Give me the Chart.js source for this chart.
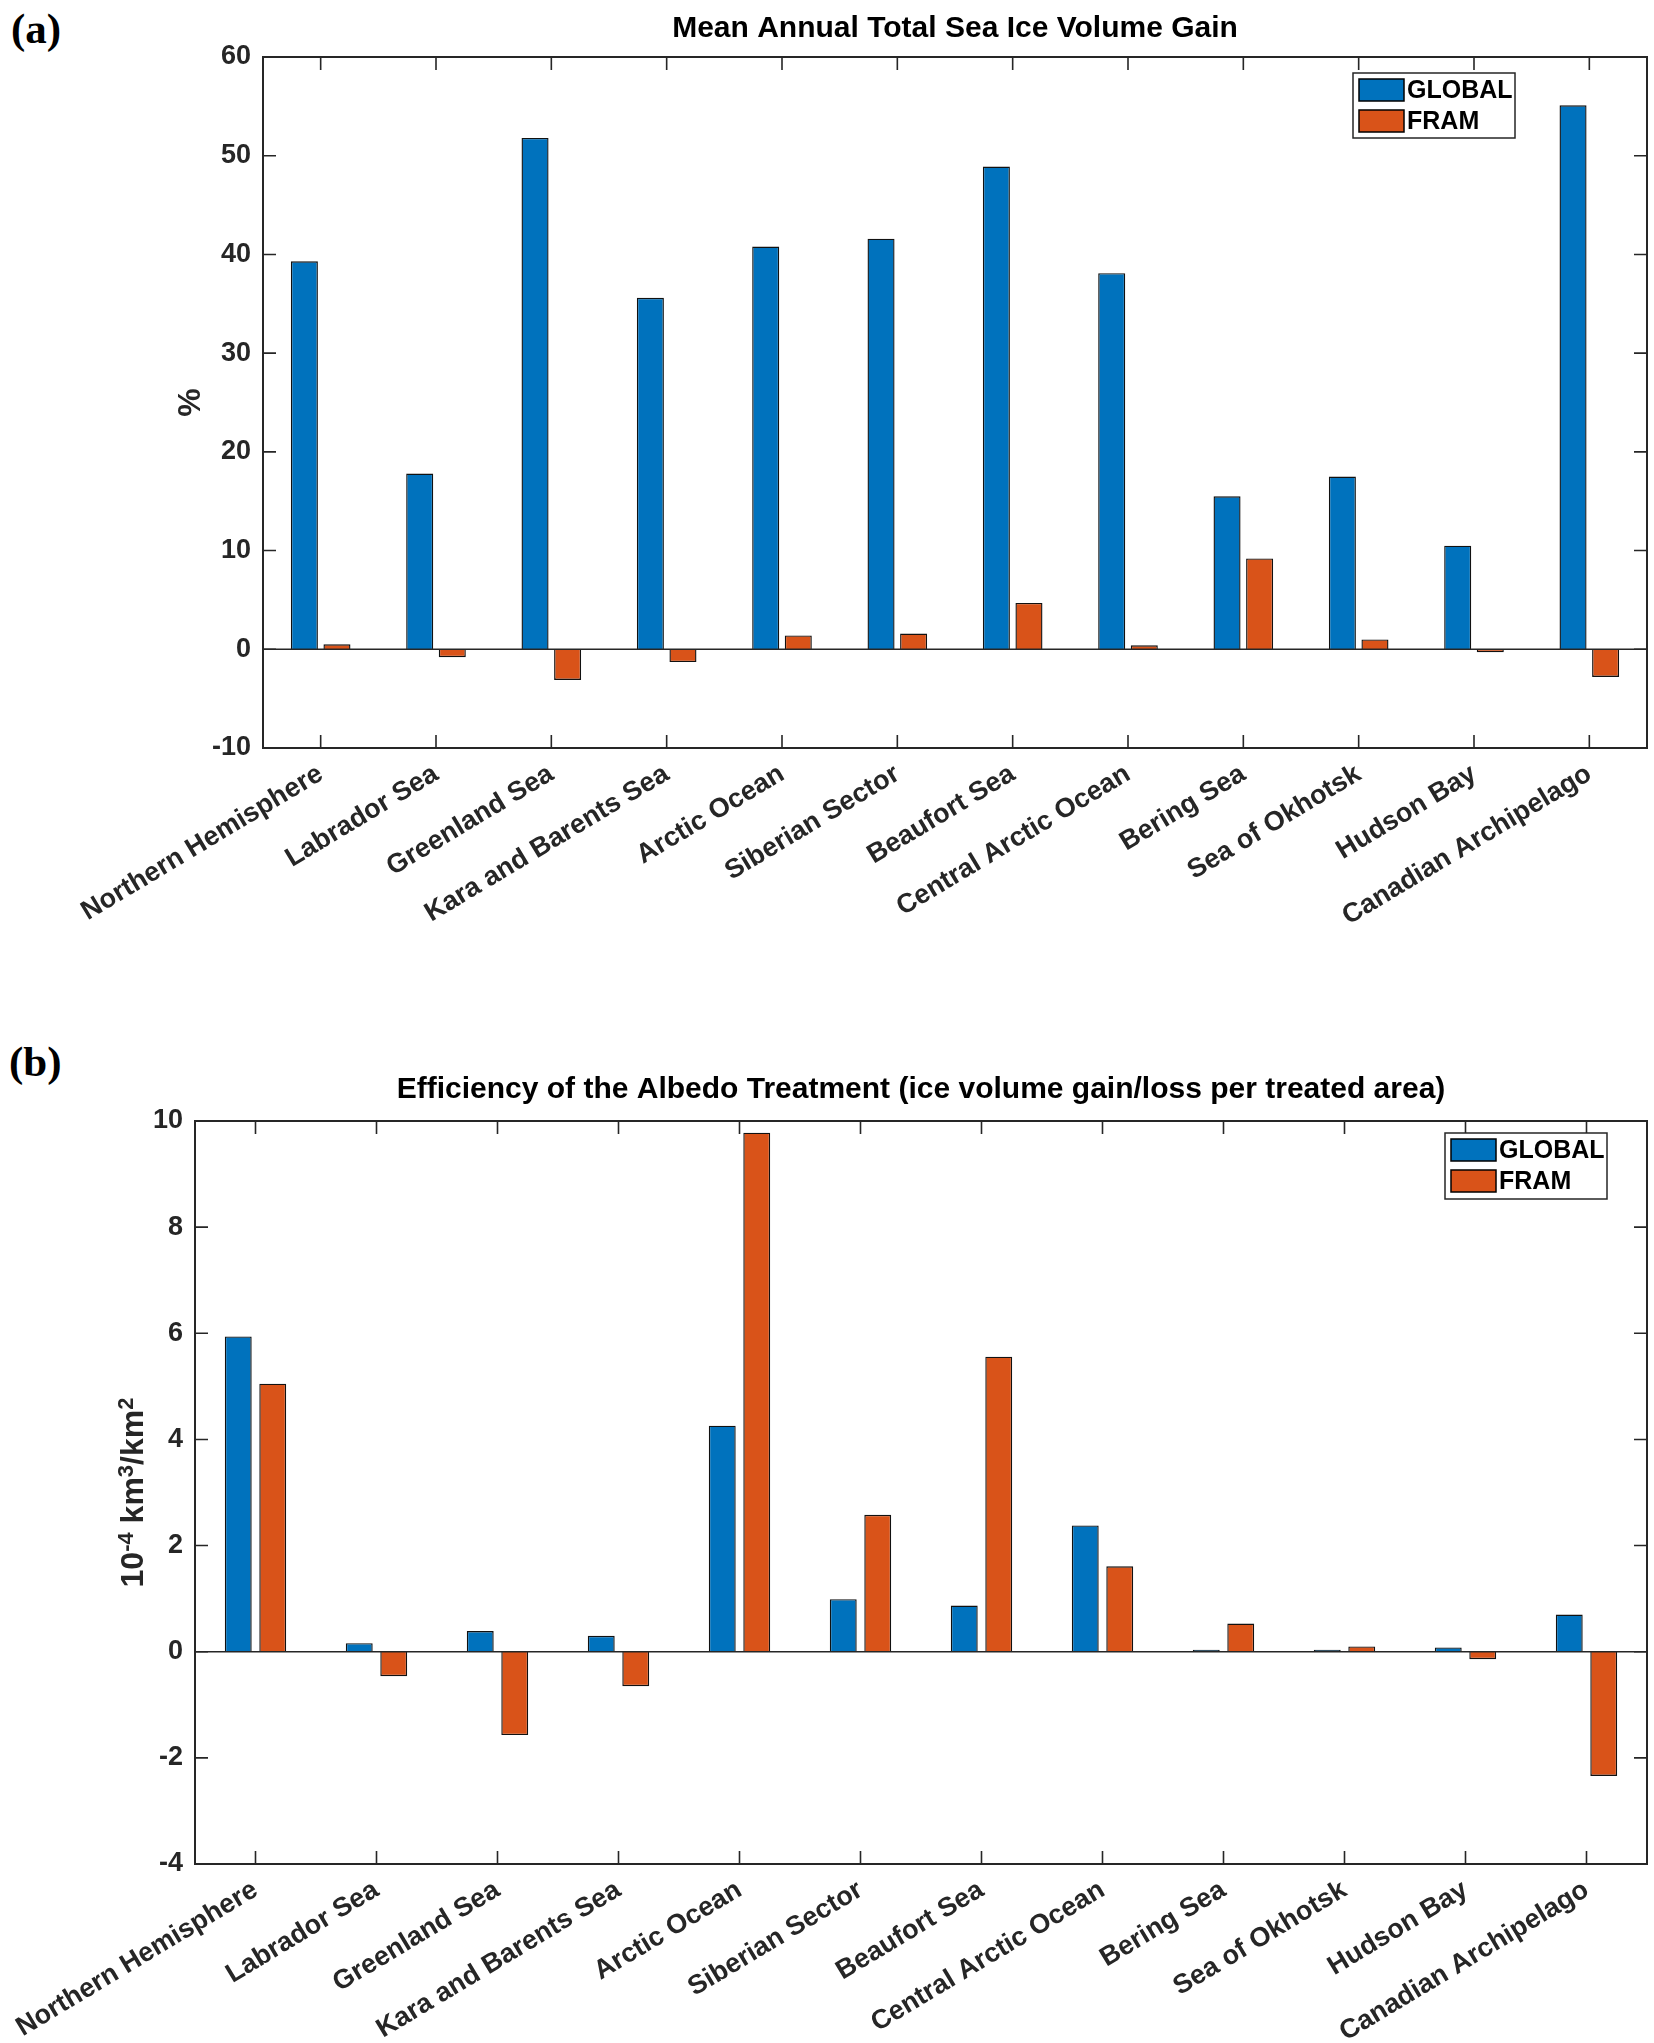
<!DOCTYPE html>
<html><head><meta charset="utf-8">
<script src="https://cdn.jsdelivr.net/npm/chart.js@4.4.0/dist/chart.umd.min.js"></script>
<style>
html,body{margin:0;padding:0;background:#fff;width:1654px;height:2043px;overflow:hidden;}
.panel{position:absolute;left:0;width:1654px;}
#pa{top:0;height:1000px;}
#pb{top:1000px;height:1043px;}
.lab{position:absolute;font-family:"Liberation Serif","Times New Roman",serif;font-weight:bold;font-size:43px;color:#000;line-height:1;}
</style></head><body>
<div class="lab" style="left:11px;top:7px">(a)</div>
<div class="lab" style="left:9px;top:1040px">(b)</div>
<div class="panel" id="pa"><canvas id="ca" width="1654" height="1000"></canvas></div>
<div class="panel" id="pb"><canvas id="cb" width="1654" height="1043"></canvas></div>
<script>
const categories = ['Northern Hemisphere','Labrador Sea','Greenland Sea','Kara and Barents Sea','Arctic Ocean','Siberian Sector','Beaufort Sea','Central Arctic Ocean','Bering Sea','Sea of Okhotsk','Hudson Bay','Canadian Archipelago'];
const seriesNames = ['GLOBAL','FRAM'];
// (a) Mean annual total sea ice volume gain, %
const gainGlobal = [39.3, 17.8, 51.8, 35.6, 40.8, 41.6, 48.9, 38.1, 15.5, 17.5, 10.5, 55.1];
const gainFram   = [0.5, -0.8, -3.1, -1.3, 1.4, 1.6, 4.7, 0.4, 9.2, 1.0, -0.3, -2.8];
const gainTicks  = [-10, 0, 10, 20, 30, 40, 50, 60];
// (b) Efficiency, 10^-4 km3/km2
const effGlobal = [5.94, 0.16, 0.39, 0.30, 4.26, 0.99, 0.87, 2.38, 0.02, 0.02, 0.08, 0.70];
const effFram   = [5.05, -0.46, -1.57, -0.65, 9.78, 2.58, 5.56, 1.61, 0.53, 0.10, -0.14, -2.34];
const effTicks  = [-4, -2, 0, 2, 4, 6, 8, 10];

const titleA = 'Mean Annual Total Sea Ice Volume Gain';
const titleB = 'Efficiency of the Albedo Treatment (ice volume gain/loss per treated area)';
const yTitleA = [{t:'%'}];
const yTitleB = [{t:'10'},{t:'-4',sup:true},{t:' km'},{t:'3',sup:true},{t:'/km'},{t:'2',sup:true}];

const FONT = '"Liberation Sans", Arial, Helvetica, sans-serif';
const INK = '#262626';
const BLUE = '#0072BD';
const ORANGE = '#D95319';

const decor = {
  id: 'decor',
  afterDatasetsDraw(chart, args, o) {
    const {ctx, chartArea: a, scales: {x, y}} = chart;
    ctx.save();
    ctx.strokeStyle = INK;
    ctx.lineWidth = 1.6;
    const y0 = y.getPixelForValue(0);
    ctx.beginPath(); ctx.moveTo(a.left, y0); ctx.lineTo(a.right, y0); ctx.stroke();
    ctx.beginPath();
    for (let i = 0; i < x.ticks.length; i++) {
      const px = x.getPixelForTick(i);
      ctx.moveTo(px, a.bottom); ctx.lineTo(px, a.bottom - 13);
      ctx.moveTo(px, a.top); ctx.lineTo(px, a.top + 13);
    }
    y.ticks.forEach(t => {
      const py = y.getPixelForValue(t.value);
      ctx.moveTo(a.left, py); ctx.lineTo(a.left + 13, py);
      ctx.moveTo(a.right, py); ctx.lineTo(a.right - 13, py);
    });
    ctx.stroke();
    ctx.lineWidth = 2;
    ctx.strokeRect(a.left, a.top, a.right - a.left, a.bottom - a.top);
    // legend
    const L = o.legend;
    const lx = a.right - L.fromRight, ly = a.top + L.fromTop;
    ctx.fillStyle = '#fff';
    ctx.fillRect(lx, ly, L.w, L.h);
    ctx.lineWidth = 1.5; ctx.strokeStyle = INK;
    ctx.strokeRect(lx, ly, L.w, L.h);
    ctx.font = 'bold 25px ' + FONT;
    ctx.textBaseline = 'middle'; ctx.textAlign = 'left';
    chart.data.datasets.forEach((ds, i) => {
      const py = ly + 6 + i * 31;
      ctx.fillStyle = ds.backgroundColor;
      ctx.fillRect(lx + 6, py, 45, 22);
      ctx.strokeStyle = '#000'; ctx.lineWidth = 1.5;
      ctx.strokeRect(lx + 6, py, 45, 22);
      ctx.fillStyle = '#000';
      ctx.fillText(ds.label, lx + 54, py + 12);
    });
    // y title
    const T = o.ytitle;
    const big = 'bold 32px ' + FONT, small = 'bold 22px ' + FONT;
    let W = 0;
    T.runs.forEach(r => { ctx.font = r.sup ? small : big; r.w = ctx.measureText(r.t).width; W += r.w; });
    ctx.translate(a.left - T.offset, (a.top + a.bottom) / 2);
    ctx.rotate(-Math.PI / 2);
    ctx.fillStyle = INK; ctx.textBaseline = 'alphabetic';
    let cx = -W / 2;
    T.runs.forEach(r => {
      ctx.font = r.sup ? small : big;
      ctx.fillText(r.t, cx, r.sup ? -10 : 0);
      cx += r.w;
    });
    ctx.restore();
  }
};

function makeChart(id, c) {
  return new Chart(document.getElementById(id), {
    type: 'bar',
    data: {
      labels: categories,
      datasets: [
        {label: seriesNames[0], data: c.g, backgroundColor: BLUE, borderColor: '#111', borderWidth: 1.4,
         categoryPercentage: c.cp, barPercentage: c.bp, minBarLength: 2},
        {label: seriesNames[1], data: c.f, backgroundColor: ORANGE, borderColor: '#111', borderWidth: 1.4,
         categoryPercentage: c.cp, barPercentage: c.bp, minBarLength: 2}
      ]
    },
    options: {
      responsive: false, animation: false, devicePixelRatio: 1,
      layout: {padding: {left: 0, right: 7, top: 0, bottom: 0}},
      plugins: {
        legend: {display: false}, tooltip: {enabled: false},
        title: {display: true, text: c.title, fullSize: false, color: '#000',
                font: {family: FONT, size: 30, weight: 'bold'}, padding: {top: c.tp, bottom: c.tb}},
        decor: {legend: c.legend, ytitle: {runs: c.yt, offset: c.yto}}
      },
      scales: {
        x: {
          grid: {display: false, drawTicks: false}, border: {display: false},
          ticks: {font: {family: FONT, size: 27, weight: 'bold'}, color: INK,
                  maxRotation: 31, minRotation: 31, autoSkip: false, padding: 10},
          afterFit: s => { s.height = c.xh; }
        },
        y: {
          min: c.ticks[0], max: c.ticks[c.ticks.length - 1],
          grid: {display: false, drawTicks: false}, border: {display: false},
          ticks: {font: {family: FONT, size: 27, weight: 'bold'}, color: INK, padding: 12},
          afterBuildTicks: s => { s.ticks = c.ticks.map(v => ({value: v})); },
          afterFit: s => { s.width = c.left; }
        }
      }
    },
    plugins: [decor]
  });
}

makeChart('ca', {g: gainGlobal, f: gainFram, ticks: gainTicks, title: titleA, tp: 11, tb: 10,
  cp: 0.565, bp: 0.83, left: 263, xh: 252,
  legend: {fromRight: 294, fromTop: 16, w: 162, h: 65}, yt: yTitleA, yto: 63});
makeChart('cb', {g: effGlobal, f: effFram, ticks: effTicks, title: titleB, tp: 72, tb: 13,
  cp: 0.57, bp: 0.78, left: 195, xh: 179,
  legend: {fromRight: 202, fromTop: 12, w: 162, h: 66}, yt: yTitleB, yto: 52});
</script>
</body></html>
